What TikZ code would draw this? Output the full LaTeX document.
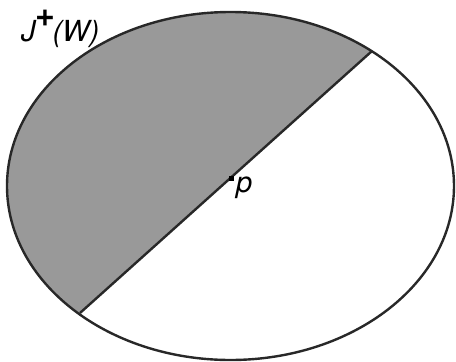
\documentclass[tikz,border=0pt]{standalone}
\usepackage{fontspec}
\setmainfont{TeX Gyre Heros}
\definecolor{fillgray}{RGB}{153,153,153}
\definecolor{linegray}{RGB}{40,40,40}
\tikzset{
  outline/.style={draw=linegray, line width=2.4pt},
  lbl/.style={inner sep=0pt, anchor=base west, font=\fontsize{29}{32}\selectfont\itshape},
}
\begin{document}
\begin{tikzpicture}[x=1pt,y=-1pt]
\useasboundingbox (0,0) rectangle (456,362);
\coordinate (c) at (230.5,186);
\coordinate (a) at (372,51);
\coordinate (b) at (80,313);
\begin{scope}
  \clip (422,6) -- (30,358) -- (-50,358) -- (-50,-50) -- (422,-50) -- cycle;
  \fill[fillgray] (c) ellipse [x radius=223.5pt, y radius=174pt];
\end{scope}
\draw[outline] (c) ellipse [x radius=223.5pt, y radius=174pt];
\draw[outline, line cap=butt] (a) -- (b);
\node[fill=black, inner sep=0pt, minimum size=5pt] (pt) at (231.5,178) {};
\node[lbl] (plabel) at (236,192) {p};
\node[lbl] (jlabel) at (21,41) {J\kern0pt\raisebox{15pt}{\fontsize{34}{36}\selectfont\upshape\bfseries +}\kern-3pt(W)};
\end{tikzpicture}
\end{document}
